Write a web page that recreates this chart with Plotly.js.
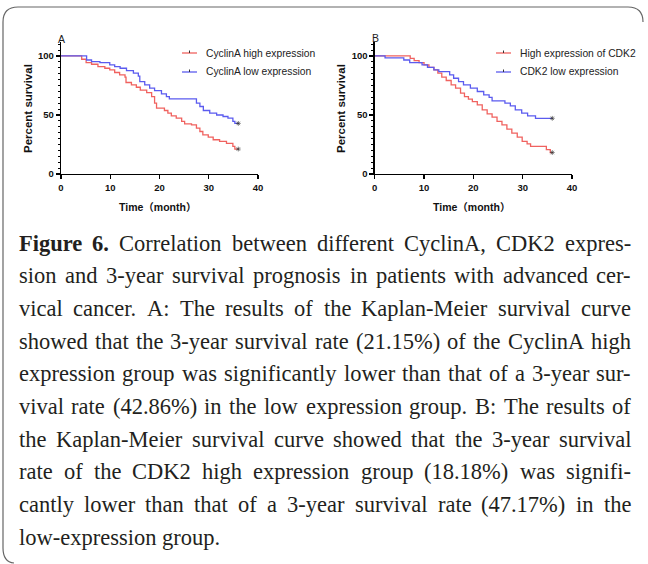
<!DOCTYPE html>
<html>
<head>
<meta charset="utf-8">
<script src="https://cdn.plot.ly/plotly-3.0.1.min.js"></script>
<style>
html,body{margin:0;padding:0;background:#fff;}
#chart{width:648px;height:564px;}
</style>
</head>
<body>
<div id="chart"></div>
<script>
// ---------- data ----------
const panelLabels = ["A", "B"];
const yTitle = "Percent survival";
const xTitle = "Time（month）";

const aHighName = "CyclinA high expression";
const aHighT = [0,4.2,5.1,6.2,7.5,8.9,9.9,10.9,11.9,13.0,13.2,14.3,15.3,16.1,17.4,18.4,19.0,19.4,21.0,21.7,22.4,23.4,24.5,25.1,26.5,27.5,28.2,28.8,29.9,30.9,32.2,33.6,34.9,35.3,36];
const aHighS = [100,97.2,94.4,93,91,89.6,88.2,86,84,82,77.5,75.5,73.5,71,69,65.6,60,55.8,53.8,51.5,49.3,47.3,44.5,42.5,41.7,38.9,36,33.2,31.3,29,27.6,26,23.4,21.15,21.15];

const aLowName = "CyclinA low expression";
const aLowT = [0,5.2,6.2,7.9,9.9,10.9,12,13.3,14.7,15.7,16,17,18,19,20.4,21.4,22,27.5,28.2,28.9,30.2,31.6,32.9,33.9,34.9,35.3,36];
const aLowS = [100,96.6,95.2,94.4,92.4,91,89.6,87.6,85.4,83,78.3,75.5,72.7,70.7,67.9,65.6,63.7,60,57.2,53.8,51.5,50,48.7,47.3,44.5,42.86,42.86];

const bHighName = "High expression of CDK2";
const bHighT = [0,7.2,8.0,9.0,10.0,11.0,12.0,12.8,13.6,14.5,15.5,16.4,17.4,18.2,19.0,19.8,20.8,21.8,22.8,23.8,24.8,25.8,26.8,27.8,28.9,29.9,30.9,31.6,34.8,35.6,36];
const bHighS = [100,98,96,94.4,92.4,90.4,88.2,85.4,82,79.2,75.5,72.7,68.5,65.6,63.4,61.4,58.6,54.4,51,48.2,44.5,41.7,38,34.6,31.3,27.6,25.5,23.4,20.6,18.18,18.18];

const bLowName = "CDK2 low expression";
const bLowT = [0,2.1,5.9,7.1,9.6,10.7,12,13,15.2,16,17,18,19.4,20.8,22.1,23.2,23.8,26.4,27.5,28.5,29.8,31,32.6,36];
const bLowS = [100,98.3,96.6,94.4,92.4,90.4,88.2,86.8,84,81.1,78.3,75.5,72.7,69.9,67,65,62,60,57.7,54.4,51.5,49.3,47.17,47.17];

const xTicks = [0,10,20,30,40];
const yTicks = [0,50,100];

const captionLines = [
  "Figure 6. Correlation between different CyclinA, CDK2 expres-",
  "sion and 3-year survival prognosis in patients with advanced cer-",
  "vical cancer. A: The results of the Kaplan-Meier survival curve",
  "showed that the 3-year survival rate (21.15%) of the CyclinA high",
  "expression group was significantly lower than that of a 3-year sur-",
  "vival rate (42.86%) in the low expression group. B: The results of",
  "the Kaplan-Meier survival curve showed that the 3-year survival",
  "rate of the CDK2 high expression group (18.18%) was signifi-",
  "cantly lower than that of a 3-year survival rate (47.17%) in the",
  "low-expression group."
];
const captionBoldWords = 2;

// ---------- layout helpers ----------
const W = 648, H = 564;
const px = x => x / W;
const py = y => 1 - y / H;
const RED = "#f0625f", BLUE = "#5b5bef", INK = "#231f20";
const sans = "Liberation Sans, Arial, Noto Sans CJK SC, sans-serif";
const serif = "Liberation Serif";

function endSizes(n){ const a = new Array(n).fill(0); a[n-1] = 4; return a; }
function trace(t, s, color, xa, ya, name){
  return {x:t, y:s, name:name, type:"scatter", mode:"lines+markers", xaxis:xa, yaxis:ya,
    line:{shape:"hv", color:color, width:1.3},
    marker:{size:endSizes(t.length), symbol:"asterisk-open", color:"#333", line:{color:"#333", width:0.9}},
    showlegend:false, hoverinfo:"skip"};
}
const data = [
  trace(aHighT, aHighS, RED, "x", "y", aHighName),
  trace(aLowT, aLowS, BLUE, "x", "y", aLowName),
  trace(bHighT, bHighS, RED, "x2", "y2", bHighName),
  trace(bLowT, bLowS, BLUE, "x2", "y2", bLowName)
];

const yDom = [py(174), py(41.8)];
const tickFont = {family:sans, size:9.5, color:"#111", weight:"bold"};
function xAxis(dom, anchor){
  return {domain:dom, anchor:anchor, range:[0,40], tickvals:xTicks, ticks:"outside", ticklen:4, tickwidth:1.3,
    tickcolor:"#000", showline:true, linecolor:"#000", linewidth:1.3, showgrid:false, zeroline:false,
    tickfont:tickFont, fixedrange:true};
}
function yAxis(anchor){
  return {domain:yDom, anchor:anchor, range:[0,112], tickvals:yTicks, ticks:"outside", ticklen:4, tickwidth:1.3,
    tickcolor:"#000", showline:true, linecolor:"#000", linewidth:1.3, showgrid:false, zeroline:false,
    minor:{tickmode:"linear", tick0:0, dtick:5, ticks:"outside", ticklen:2, tickwidth:1, tickcolor:"#000"},
    tickfont:tickFont, fixedrange:true};
}

const annotations = [];
const shapes = [];
function ann(x, y, text, opts){
  annotations.push(Object.assign({xref:"paper", yref:"paper", x:px(x), y:py(y), text:text, showarrow:false,
    xanchor:"center", yanchor:"middle"}, opts || {}));
}
// panel labels and axis titles
const panels = [{lx:61, ly:39, yt:28, xt:157}, {lx:375, ly:38, yt:341, xt:471}];
panels.forEach((p, i) => {
  ann(p.lx, p.ly, panelLabels[i], {font:{family:sans, size:10.5, color:"#222"}});
  ann(p.yt, 109, yTitle, {textangle:-90, font:{family:sans, size:11.5, color:"#111", weight:"bold"}});
  ann(p.xt, 207, xTitle, {font:{family:sans, size:10.5, color:"#111", weight:"bold"}});
});
// legends
const legends = [
  {x0:182, tx:205, items:[[aHighName, RED],[aLowName, BLUE]]},
  {x0:496, tx:519, items:[[bHighName, RED],[bLowName, BLUE]]}
];
legends.forEach(lg => {
  lg.items.forEach((it, k) => {
    const y = 53 + k * 19;
    shapes.push({type:"line", xref:"paper", yref:"paper", x0:px(lg.x0), x1:px(lg.x0+15), y0:py(y), y1:py(y), line:{color:it[1], width:1.3}});
    shapes.push({type:"line", xref:"paper", yref:"paper", x0:px(lg.x0+7.5), x1:px(lg.x0+7.5), y0:py(y-2.5), y1:py(y), line:{color:"#333", width:1}});
    ann(lg.tx - 1, y, it[0], {xanchor:"left", font:{family:sans, size:10.3, color:"#222"}});
  });
});
// frame
const fp = (x, y) => px(x).toFixed(5) + "," + py(y).toFixed(5);
shapes.push({type:"path", xref:"paper", yref:"paper",
  path:"M" + fp(643,22) + " Q" + fp(643,7) + " " + fp(628,7) + " L" + fp(18,7) + " Q" + fp(3,7) + " " + fp(3,22) +
       " L" + fp(3,548) + " Q" + fp(3,562) + " " + fp(14,563),
  line:{color:"#666", width:1.2}});

// caption, justified
const FS = 22.5, capL = 18, capR = 630, capTop = 243, capLH = 32.67;
const ctx = document.createElement("canvas").getContext("2d");
function meas(t, b){ ctx.font = (b ? "bold " : "") + FS + "px '" + serif + "'"; return ctx.measureText(t).width; }
captionLines.forEach((line, i) => {
  const words = line.split(" ");
  const bold = words.map((w, k) => i === 0 && k < captionBoldWords);
  const ws = words.map((w, k) => meas(w, bold[k]));
  const sum = ws.reduce((a, b) => a + b, 0);
  const last = i === captionLines.length - 1;
  const gap = last ? meas(" ", false) : (capR - capL - sum) / (words.length - 1);
  let x = capL;
  words.forEach((w, k) => {
    ann(x - 1, capTop + i * capLH, bold[k] ? "<b>" + w + "</b>" : w,
      {xanchor:"left", font:{family:serif, size:FS, color:INK}});
    x += ws[k] + gap;
  });
});

const layout = {
  width:W, height:H, margin:{l:0, r:0, t:0, b:0}, paper_bgcolor:"#fff", plot_bgcolor:"#fff",
  showlegend:false,
  xaxis:xAxis([px(61), px(258)], "y"), yaxis:yAxis("x"),
  xaxis2:xAxis([px(374.7), px(572)], "y2"), yaxis2:yAxis("x2"),
  annotations:annotations, shapes:shapes
};
Plotly.newPlot("chart", data, layout, {displayModeBar:false, staticPlot:true});
</script>
</body>
</html>
